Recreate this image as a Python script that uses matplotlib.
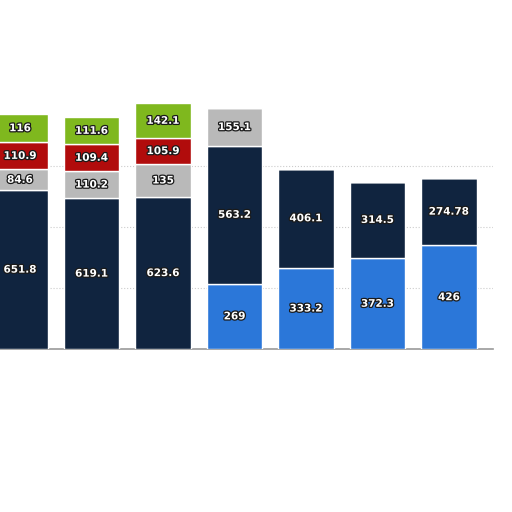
import matplotlib.pyplot as plt
import matplotlib.patheffects as pe
import numpy as np

# values per bar, bottom to top
light_blue = [0, 0, 0, 269, 333.2, 372.3, 426]
dark_navy = [651.8, 619.1, 623.6, 563.2, 406.1, 314.5, 274.78]
grey = [84.6, 110.2, 135, 155.1, 0, 0, 0]
red = [110.9, 109.4, 105.9, 0, 0, 0, 0]
green = [116, 111.6, 142.1, 0, 0, 0, 0]

label_text = [
    ["", "", "", "269", "333.2", "372.3", "426"],
    ["651.8", "619.1", "623.6", "563.2", "406.1", "314.5", "274.78"],
    ["84.6", "110.2", "135", "155.1", "", "", ""],
    ["110.9", "109.4", "105.9", "", "", "", ""],
    ["116", "111.6", "142.1", "", "", "", ""],
]

colors = ["#2b77d9", "#10243f", "#b9b9b9", "#b10c0c", "#7fb81e"]


def main():
    fig = plt.figure(figsize=(5.12, 5.12), dpi=100)
    ax = fig.add_axes([0, 0.318, 493 / 512, 249 / 512])

    x = np.arange(len(dark_navy))
    series = [light_blue, dark_navy, grey, red, green]
    bottom = np.zeros(len(x))
    for vals, col, labs in zip(series, colors, label_text):
        vals = np.array(vals, dtype=float)
        ax.bar(x, vals, bottom=bottom, width=0.77, color=col,
               edgecolor="white", linewidth=1, zorder=3)
        for xi, v, b, t in zip(x, vals, bottom, labs):
            if v > 0 and t:
                ax.text(xi, b + v / 2, t, ha="center", va="center",
                        color="white", fontsize=7.5, fontweight="bold",
                        zorder=5,
                        path_effects=[pe.withStroke(linewidth=1.8, foreground="#1a1a1a")])
        bottom += vals

    ax.set_xlim(-0.28, 6.615)
    ax.set_ylim(0, 1020)
    ax.set_yticks([250, 500, 750])
    ax.yaxis.grid(True, linestyle=":", color="#cccccc", linewidth=0.8, zorder=0)
    ax.set_xticks([])
    ax.tick_params(left=False, labelleft=False)
    for s in ["top", "right", "left"]:
        ax.spines[s].set_visible(False)
    ax.spines["bottom"].set_color("#999999")
    ax.spines["bottom"].set_linewidth(1.2)

    fig.savefig("out.png", dpi=100, facecolor="white")


if __name__ == "__main__":
    main()
